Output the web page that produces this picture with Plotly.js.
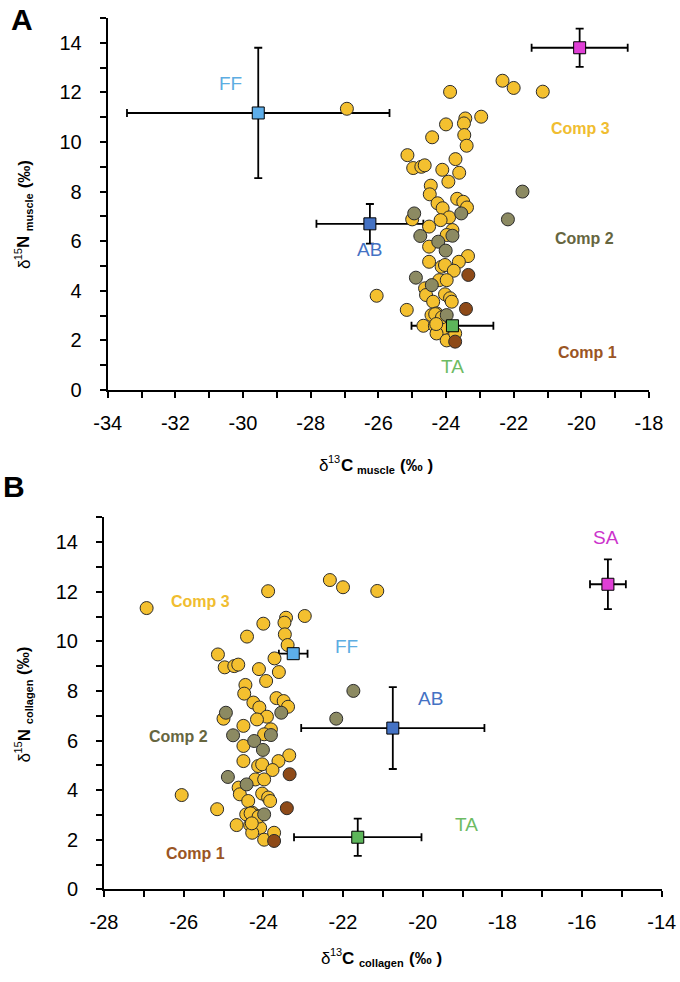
<!DOCTYPE html>
<html><head><meta charset="utf-8">
<script src="https://cdn.plot.ly/plotly-3.0.1.min.js"></script>
<style>html,body{margin:0;padding:0;background:#fff}#chart{width:680px;height:982px}</style>
</head><body><div id="chart"></div>
<script>
// Consumer points (d13C, d15N) – same individuals plotted on both panels
const comp3X = [-22.33,-22.0,-21.14,-23.88,-23.43,-22.96,-24.0,-23.47,-23.46,-24.41,-23.39,-25.14,-23.72,-24.97,-24.73,-24.63,-24.11,-23.61,-23.93,-24.45,-24.48,-23.67,-24.25,-23.49,-23.38,-24.1,-23.91,-24.16,-25.0,-24.5,-23.81,-23.98,-24.5,-23.35,-26.93,-26.05,
  -23.62,-24.13,-24.03,-23.77,-24.5,-24.2,-23.98,-24.62,-24.59,-24.03,-23.88,-23.83,-24.38,-25.16,-24.28,-24.43,-24.13,-24.67,-24.33,-24.08,-24.28,-23.98,-23.73,-24.32,-24.12,-24.29];
const comp3Y = [12.47,12.18,12.03,12.02,10.95,11.02,10.71,10.75,10.28,10.19,9.85,9.47,9.31,8.95,9.0,9.06,8.88,8.76,8.40,8.24,7.89,7.71,7.53,7.59,7.36,7.33,6.96,6.85,6.88,6.59,6.45,6.25,5.78,5.40,11.34,3.8,
  5.17,4.97,5.04,4.81,5.17,4.43,4.43,4.1,3.83,3.86,3.7,3.56,3.56,3.23,3.09,3.02,2.95,2.59,2.59,2.48,2.28,2.0,2.28,3.06,2.93,2.66];
const comp2X = [-21.74,-22.17,-24.94,-23.55,-24.76,-23.81,-24.23,-24.01,-24.89,-24.42,-23.98];
const comp2Y = [8.0,6.88,7.12,7.12,6.21,6.22,5.98,5.62,4.53,4.23,3.02];
const comp1X = [-23.34,-23.41,-23.73];
const comp1Y = [4.64,3.27,1.95];

// Sources (mean ± SD)
const srcNames = ['SA','FF','AB','TA'];
const srcColors = ['#E03FD6','#5DAEEA','#4472C4','#5DB65A'];
const srcLabelColors = ['#CC33CC','#5DADE2','#4472C4','#6DBB63'];
// Panel A: muscle
const srcAX = [-20.05,-29.55,-26.25,-23.81];
const srcAY = [13.8,11.17,6.7,2.59];
const srcAXerr = [1.42,3.88,1.58,1.21];
const srcAYerr = [0.77,2.63,0.8,0.2];
const labAX = [-20.1,-30.37,-26.25,-23.8];
const labAY = [15.3,12.34,5.65,0.94];
// Panel B: collagen
const srcBX = [-15.35,-23.25,-20.75,-21.63];
const srcBY = [12.3,9.5,6.5,2.1];
const srcBXerr = [0.45,0.36,2.3,1.6];
const srcBYerr = [1.0,0.2,1.65,0.75];
const labBX = [-15.4,-21.91,-19.8,-18.9];
const labBY = [14.2,9.81,7.7,2.6];

const compNames = ['Comp 3','Comp 2','Comp 1'];
const compFill = ['#F4C02F','#8C8A62','#8E4A18'];
const compLabelColor = ['#F0BD30','#66663F','#9A5524'];
const compLabAX = [-20.02,-19.9,-19.82];
const compLabAY = [10.55,6.12,1.53];
const compLabBX = [-25.59,-26.13,-25.7];
const compLabBY = [11.6,6.15,1.46];

// Tick labels
const xTicksA = [-34,-32,-30,-28,-26,-24,-22,-20,-18];
const xTicksB = [-28,-26,-24,-22,-20,-18,-16,-14];
const yTicks = [0,2,4,6,8,10,12,14];

// Axis titles: [text, size, weight, role]
const titleXA = [['δ',17,'normal','base'],['13',11,'normal','sup'],['C',17,'bold','base'],[' ',17,'normal','gap'],['muscle',11,'bold','sub'],[' ',17,'normal','gap'],['(‰ )',17,'bold','base']];
const titleYA = [['δ',17,'normal','base'],['15',11,'normal','sup'],['N',17,'bold','base'],[' ',17,'normal','gap'],['muscle',11,'bold','sub'],[' ',17,'normal','gap'],['(‰)',17,'bold','base']];
const titleXB = [['δ',17,'normal','base'],['13',11,'normal','sup'],['C',17,'bold','base'],[' ',17,'normal','gap'],['collagen',11,'bold','sub'],[' ',17,'normal','gap'],['(‰ )',17,'bold','base']];
const titleYB = [['δ',17,'normal','base'],['15',11,'normal','sup'],['N',17,'bold','base'],[' ',17,'normal','gap'],['collagen',11,'bold','sub'],[' ',17,'normal','gap'],['(‰)',17,'bold','base']];

const W = 680, H = 982;
const px = v => v / W, py = v => 1 - v / H;
const FONT = 'Liberation Sans, Arial, sans-serif';
const ctx = document.createElement('canvas').getContext('2d');
function tw(t, size, weight) { ctx.font = weight + ' ' + size + 'px "Liberation Sans", Arial, sans-serif'; return ctx.measureText(t).width; }

const traces = [];
function panel(xa, ya, sx, sy, sxe, sye) {
  traces.push({x: sx, y: sy, xaxis: xa, yaxis: ya, type: 'scatter', mode: 'markers',
    marker: {size: 12, color: 'rgba(0,0,0,0)'},
    error_x: {type: 'data', array: sxe, visible: true, color: '#000', thickness: 1.8, width: 4},
    error_y: {type: 'data', array: sye, visible: true, color: '#000', thickness: 1.8, width: 4},
    hoverinfo: 'skip', showlegend: false});
  const cx = [comp3X, comp2X, comp1X], cy = [comp3Y, comp2Y, comp1Y];
  for (let i = 0; i < 3; i++) {
    traces.push({x: cx[i], y: cy[i], xaxis: xa, yaxis: ya, type: 'scatter', mode: 'markers', name: compNames[i],
      marker: {size: 13, color: compFill[i], line: {color: '#2b2b2b', width: 1}}, showlegend: false});
  }
  traces.push({x: sx, y: sy, xaxis: xa, yaxis: ya, type: 'scatter', mode: 'markers',
    marker: {symbol: 'square', size: 12, color: srcColors, line: {color: '#000', width: 1}},
    text: srcNames, showlegend: false});
}
panel('x', 'y', srcAX, srcAY, srcAXerr, srcAYerr);
panel('x2', 'y2', srcBX, srcBY, srcBXerr, srcBYerr);

const annotations = [];
function addLabels(xr, yr, lx, ly, clx, cly) {
  srcNames.forEach((n, i) => annotations.push({xref: xr, yref: yr, x: lx[i], y: ly[i], text: n, showarrow: false,
    font: {family: FONT, size: 19, color: srcLabelColors[i]}}));
  compNames.forEach((n, i) => annotations.push({xref: xr, yref: yr, x: clx[i], y: cly[i], text: n, showarrow: false,
    font: {family: FONT, size: 16, weight: 'bold', color: compLabelColor[i]}}));
}
addLabels('x', 'y', labAX, labAY, compLabAX, compLabAY);
addLabels('x2', 'y2', labBX, labBY, compLabBX, compLabBY);

function paperText(x, y, text, size, angle, weight) {
  annotations.push({xref: 'paper', yref: 'paper', x: px(x), y: py(y), text: text, showarrow: false,
    textangle: angle || 0, xanchor: 'center', yanchor: 'middle', borderpad: 0,
    font: {family: FONT, size: size, color: '#000', weight: weight || 'normal'}});
}
const SHIFT = {base: 0, sup: -6, sub: 5, gap: 0};
// horizontal composed title centred at (cx, cy) in pixels
function hTitle(parts, cx, cy) {
  const ws = parts.map(p => tw(p[0], p[1], p[2]));
  const total = ws.reduce((a, b) => a + b, 0);
  let pos = cx - total / 2;
  parts.forEach((p, i) => {
    if (p[3] !== 'gap') paperText(pos + ws[i] / 2, cy + SHIFT[p[3]], p[0], p[1], 0, p[2]);
    pos += ws[i];
  });
}
// vertical composed title (reads bottom to top) centred at (cx, cy)
function vTitle(parts, cx, cy) {
  const ws = parts.map(p => tw(p[0], p[1], p[2]));
  const total = ws.reduce((a, b) => a + b, 0);
  let pos = cy + total / 2;
  parts.forEach((p, i) => {
    if (p[3] !== 'gap') paperText(cx + SHIFT[p[3]], pos - ws[i] / 2, p[0], p[1], -90, p[2]);
    pos -= ws[i];
  });
}
paperText(22, 20, 'A', 30, 0, 'bold');
paperText(14, 487, 'B', 30, 0, 'bold');
hTitle(titleXA, 376, 465);
vTitle(titleYA, 24, 215);
hTitle(titleXB, 381, 958);
vTitle(titleYB, 24, 705);

function withMinor(labels, lo, hi) {
  const vals = [], txt = [];
  for (let v = lo; v <= hi; v++) { vals.push(v); txt.push(labels.includes(v) ? String(v) : ''); }
  return {tickmode: 'array', tickvals: vals, ticktext: txt};
}
const axBase = {showgrid: false, zeroline: false, showline: true, linecolor: '#000', linewidth: 2,
  ticks: 'outside', ticklen: 6, tickwidth: 2, tickcolor: '#000',
  tickfont: {family: FONT, size: 20, color: '#000'}};

const layout = {
  width: W, height: H, margin: {l: 0, r: 0, t: 0, b: 0}, paper_bgcolor: '#fff', plot_bgcolor: '#fff',
  showlegend: false,
  xaxis: Object.assign({}, axBase, withMinor(xTicksA, -34, -18), {range: [-34, -18], domain: [px(107.7), px(649)], anchor: 'y', ticklabelstandoff: 8}),
  yaxis: Object.assign({}, axBase, withMinor(yTicks, 0, 15), {range: [0, 15], domain: [py(390), py(18)], anchor: 'x', ticklabelstandoff: 14}),
  xaxis2: Object.assign({}, axBase, withMinor(xTicksB, -28, -14), {range: [-28, -14], domain: [px(104), px(661.7)], anchor: 'y2', ticklabelstandoff: 8}),
  yaxis2: Object.assign({}, axBase, withMinor(yTicks, 0, 15), {range: [0, 15], domain: [py(889.3), py(517.3)], anchor: 'x2', ticklabelstandoff: 14}),
  annotations: annotations
};
Plotly.newPlot('chart', traces, layout, {staticPlot: true, displayModeBar: false});
</script>
</body></html>
